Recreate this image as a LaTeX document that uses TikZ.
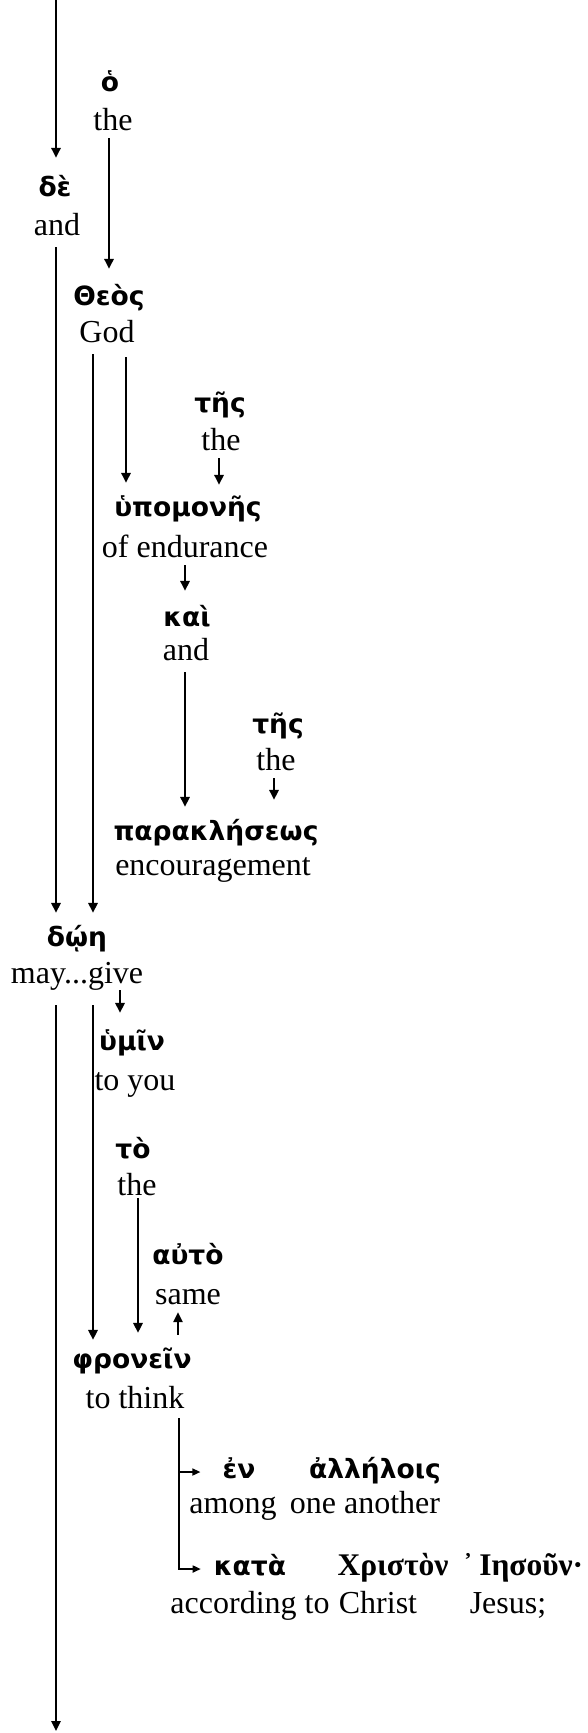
\documentclass[tikz,border=0pt]{standalone}
\usepackage{fontspec}
\setmainfont{Liberation Serif}
\newfontfamily\grk{DejaVu Sans}
\usetikzlibrary{arrows.meta}
\begin{document}
\begin{tikzpicture}[x=1pt,y=-1pt,
  gk/.style={font=\grk\bfseries\fontsize{26.5}{30}\selectfont, inner sep=0pt, text height=19pt, text depth=6pt},
  gs/.style={font=\bfseries\fontsize{31.5}{36}\selectfont, inner sep=0pt, text height=19pt, text depth=6pt},
  en/.style={font=\fontsize{32}{36}\selectfont, inner sep=0pt, text height=21pt, text depth=7pt},
  arr/.style={line width=1.6pt, -{Triangle[length=10pt,width=9.5pt]}},
  sarr/.style={line width=1.6pt, -{Triangle[length=8pt,width=7pt]}}]
\useasboundingbox (0,0) rectangle (588,1733);
% column coordinates
\coordinate (xA) at (56,0);
\coordinate (xB) at (109,0);
\coordinate (xD) at (93,0);
\coordinate (xE) at (126,0);
\coordinate (xF) at (219,0);
\coordinate (xG) at (185,0);
\coordinate (xI) at (274,0);
\coordinate (xJ) at (120,0);
\coordinate (xM) at (138,0);
\coordinate (xN) at (178,0);
\coordinate (xO) at (179,0);
\coordinate (top) at (56,0);
\coordinate (bottom) at (56,1731);
% words
\node[gk] (g1) at (110,85) {ὁ};
\node[en] (e1) at (113,123) {the};
\node[gk] (g2) at (55,190) {δὲ};
\node[en] (e2) at (57,228) {and};
\node[gk] (g3) at (109,299) {Θεὸς};
\node[en] (e3) at (107,335) {God};
\node[gk] (g4) at (220,406) {τῆς};
\node[en] (e4) at (221,443) {the};
\node[gk] (g5) at (188,510) {ὑπομονῆς};
\node[en] (e5) at (185,550) {of endurance};
\node[gk] (g6) at (187,620) {καὶ};
\node[en] (e6) at (186,653) {and};
\node[gk] (g7) at (278,727) {τῆς};
\node[en] (e7) at (276,763) {the};
\node[gk] (g8) at (216,834) {παρακλήσεως};
\node[en] (e8) at (213,868) {encouragement};
\node[gk] (g9) at (77,940) {δῴη};
\node[en] (e9) at (77,976) {may...give};
\node[gk] (g10) at (132,1044) {ὑμῖν};
\node[en] (e10) at (135,1083) {to you};
\node[gk] (g11) at (133,1152) {τὸ};
\node[en] (e11) at (137,1188) {the};
\node[gk] (g12) at (188,1258) {αὐτὸ};
\node[en] (e12) at (188,1297) {same};
\node[gk] (g13) at (132,1362) {φρονεῖν};
\node[en] (e13) at (135,1401) {to think};
\node[gk] (g14) at (239,1472) {ἐν};
\node[en] (e14) at (233,1506) {among};
\node[gk] (g15) at (375,1472) {ἀλλήλοις};
\node[en] (e15) at (365,1506) {one another};
\node[gk] (g16) at (250,1569) {κατὰ};
\node[en] (e16) at (250,1606) {according to};
\node[gs] (g17) at (393,1569) {Χριστὸν};
\node[en] (e17) at (378,1606) {Christ};
\node[gs] (g18) at (523,1569) {᾿\hspace{6pt}Ιησοῦν·};
\node[en] (e18) at (508,1606) {Jesus;};
% connectors
\draw[arr, shorten >=19.5pt] (top) -- (g2.north -| xA);
\draw[arr, shorten <=1pt, shorten >=17.5pt] (e1.south -| xB) -- (g3.north -| xB);
\draw[arr, shorten <=5pt, shorten >=14.5pt] (e2.south -| xA) -- (g9.north -| xA);
\draw[arr, shorten <=5pt, shorten >=14.5pt] (e3.south -| xD) -- (g9.north -| xD);
\draw[arr, shorten <=8pt, shorten >=14.5pt] (e3.south -| xE) -- (g5.north -| xE);
\draw[arr, shorten <=1pt, shorten >=12.5pt] (e4.south -| xF) -- (g5.north -| xF);
\draw[arr, shorten <=1pt, shorten >=16.5pt] (e5.south -| xG) -- (g6.north -| xG);
\draw[arr, shorten <=5pt, shorten >=14.5pt] (e6.south -| xG) -- (g8.north -| xG);
\draw[arr, shorten <=1pt, shorten >=21.5pt] (e7.south -| xI) -- (g8.north -| xI);
\draw[arr, shorten >=18.5pt] (e9.south -| xJ) -- (g10.north -| xJ);
\draw[arr, shorten <=15pt] (e9.south -| xA) -- (bottom);
\draw[arr, shorten <=15pt, shorten >=9.5pt] (e9.south -| xD) -- (g13.north -| xD);
\draw[arr, shorten <=-4pt, shorten >=16.5pt] (e11.south -| xM) -- (g13.north -| xM);
\draw[arr, shorten <=14.5pt, shorten >=1pt] (g13.north -| xN) -- (e12.south -| xN);
\draw[sarr, shorten <=3pt, shorten >=13pt] (e13.south -| xO) |- (g16.west);
\draw[sarr, shorten >=22pt] (g14.west -| xO) -- (g14.west);
\end{tikzpicture}
\end{document}
